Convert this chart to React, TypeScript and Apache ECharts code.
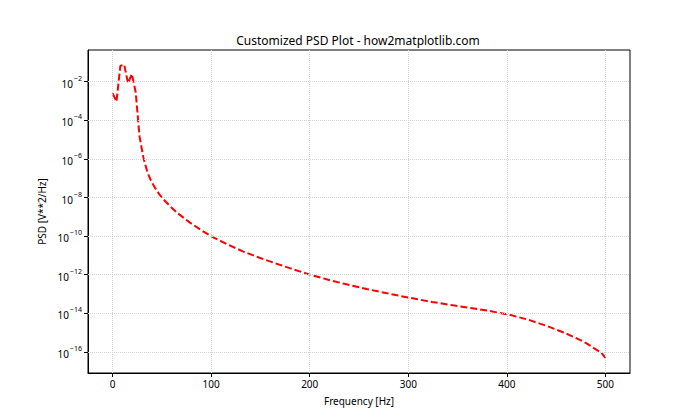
import React, { useEffect, useRef } from "react";
import * as echarts from "echarts";

// Frequency bins (Hz)
const freqs = [
  0, 3.9, 7.8, 11.7, 15.6, 19.5, 23.4, 27.3, 31.3, 35.2, 39.1, 43.0, 46.9, 50.8,
  58.6, 66.4, 78.1, 89.8, 101.6, 117.2, 132.8, 148.4, 164.1, 179.7, 199.2, 218.8,
  238.3, 257.8, 277.3, 300.8, 324.2, 343.8, 363.3, 382.8, 402.3, 421.9, 441.4,
  457.0, 468.8, 480.5, 488.3, 496.1, 500,
];
// log10 of PSD [V**2/Hz]
const psdLog10 = [
  -2.61, -3.03, -1.19, -1.11, -2.08, -1.6, -2.55, -4.85, -5.95, -6.68, -7.15, -7.5, -7.8, -8.06,
  -8.47, -8.83, -9.29, -9.69, -10.05, -10.45, -10.8, -11.11, -11.39, -11.66, -11.98, -12.26,
  -12.51, -12.74, -12.95, -13.19, -13.41, -13.57, -13.72, -13.88, -14.07, -14.33, -14.67,
  -14.98, -15.24, -15.54, -15.8, -16.05, -16.31,
];
const xTicks = [0, 100, 200, 300, 400, 500];
const yTicks = [-16, -14, -12, -10, -8, -6, -4, -2];

const FONT = "Noto Sans";

export default function App() {
  const ref = useRef<HTMLDivElement>(null);
  useEffect(() => {
    if (!ref.current) return;
    const chart = echarts.init(ref.current, undefined, { renderer: "svg" });
    const data = freqs.map((f, i) => [f, psdLog10[i]]);
    const gridLineStyle = { type: "dotted" as const, color: "#d3d3d3", width: 1 };
    chart.setOption({
      animation: false,
      backgroundColor: "#ffffff",
      textStyle: { fontFamily: FONT },
      title: {
        text: "Customized PSD Plot - how2matplotlib.com",
        left: 353,
        top: 29,
        textAlign: "center",
        textStyle: { fontFamily: FONT, fontSize: 12, fontWeight: "normal", color: "#000" },
      },
      grid: {
        left: 88,
        right: 70,
        top: 50,
        bottom: 47,
        show: true,
        borderColor: "#000",
        borderWidth: 1,
        backgroundColor: "transparent",
      },
      xAxis: {
        type: "value",
        min: -25,
        max: 525,
        name: "Frequency [Hz]",
        nameLocation: "middle",
        nameGap: 23,
        nameTextStyle: { fontFamily: FONT, fontSize: 10, color: "#000" },
        axisLine: { show: true, onZero: false, lineStyle: { color: "#000", width: 1 } },
        axisTick: { show: true, inside: false, length: 4, customValues: xTicks, lineStyle: { color: "#000" } },
        axisLabel: { customValues: xTicks, fontFamily: FONT, fontSize: 10, color: "#000", margin: 6 },
        splitLine: { show: false },
      },
      yAxis: {
        type: "value",
        min: -17.09,
        max: -0.36,
        name: "PSD [V**2/Hz]",
        nameLocation: "middle",
        nameGap: 40,
        nameTextStyle: { fontFamily: FONT, fontSize: 10, color: "#000" },
        axisLine: { show: true, onZero: false, lineStyle: { color: "#000", width: 1 } },
        axisTick: { show: true, inside: false, length: 4, customValues: yTicks, lineStyle: { color: "#000" } },
        axisLabel: {
          customValues: yTicks,
          margin: 6,
          formatter: (v: number) => `{b|10}{s|\u2212${Math.abs(v)}}`,
          rich: {
            b: { fontFamily: FONT, fontSize: 10, color: "#000", lineHeight: 14, verticalAlign: "bottom" },
            s: { fontFamily: FONT, fontSize: 7, color: "#000", verticalAlign: "top", padding: [0, 0, 6, 1] },
          },
        },
        splitLine: { show: false },
      },
      series: [
        {
          type: "line",
          data,
          z: 1,
          symbol: "none",
          silent: true,
          lineStyle: { opacity: 0 },
          markLine: {
            silent: true,
            symbol: "none",
            label: { show: false },
            lineStyle: gridLineStyle,
            data: [
              ...xTicks.map((x) => ({ xAxis: x })),
              ...yTicks.map((y) => ({ yAxis: y })),
            ],
          },
        },
        {
          type: "line",
          data,
          z: 3,
          symbol: "none",
          lineStyle: { color: "#ff0000", width: 2, type: [7, 3] },
        },
      ],
    });
    return () => chart.dispose();
  }, []);
  return (
    <div
      ref={ref}
      style={{ position: "fixed", left: 0, top: 0, width: 700, height: 420 }}
    />
  );
}
